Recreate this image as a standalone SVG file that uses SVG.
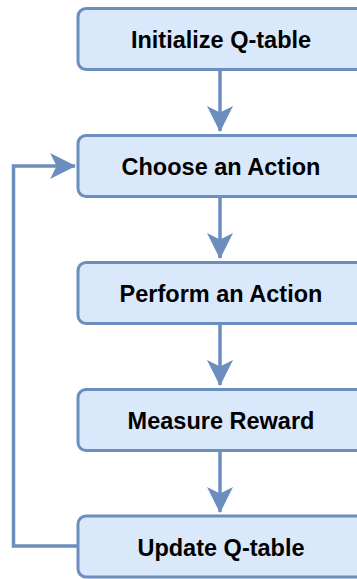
<svg xmlns="http://www.w3.org/2000/svg" width="357" height="579" viewBox="0 0 357 579">
<style>
.box{fill:#dae8fc;stroke:#6c8ebf;stroke-width:3}
.lbl{font-family:"Liberation Sans",Arial,sans-serif;font-weight:bold;font-size:23.5px;fill:#000;text-anchor:middle}
.edge{fill:none;stroke:#6c8ebf;stroke-width:3.5}
</style>
<defs>
<marker id="arr" markerUnits="userSpaceOnUse" markerWidth="26" markerHeight="26" viewBox="0 0 24 24" refX="23" refY="12" orient="auto">
<path d="M0,0 L24,12 L0,24 L6,12 Z" fill="#6c8ebf"/>
</marker>
</defs>
<g id="edges">
<path class="edge" d="M220,70 V131" marker-end="url(#arr)"/>
<path class="edge" d="M220,197 V258" marker-end="url(#arr)"/>
<path class="edge" d="M220,324 V385" marker-end="url(#arr)"/>
<path class="edge" d="M220,451 V512" marker-end="url(#arr)"/>
<path class="edge" d="M77,546 H13.5 V166 H75" marker-end="url(#arr)"/>
</g>
<g id="n1"><rect class="box" x="78" y="8.5" width="290" height="61" rx="8"/><text class="lbl" x="221" y="48">Initialize Q-table</text></g>
<g id="n2"><rect class="box" x="78" y="135.5" width="290" height="61" rx="8"/><text class="lbl" x="221" y="175">Choose an Action</text></g>
<g id="n3"><rect class="box" x="78" y="262.5" width="290" height="61" rx="8"/><text class="lbl" x="221" y="302">Perform an Action</text></g>
<g id="n4"><rect class="box" x="78" y="389.5" width="290" height="61" rx="8"/><text class="lbl" x="221" y="429">Measure Reward</text></g>
<g id="n5"><rect class="box" x="78" y="516" width="290" height="61" rx="8"/><text class="lbl" x="221" y="556">Update Q-table</text></g>
</svg>
